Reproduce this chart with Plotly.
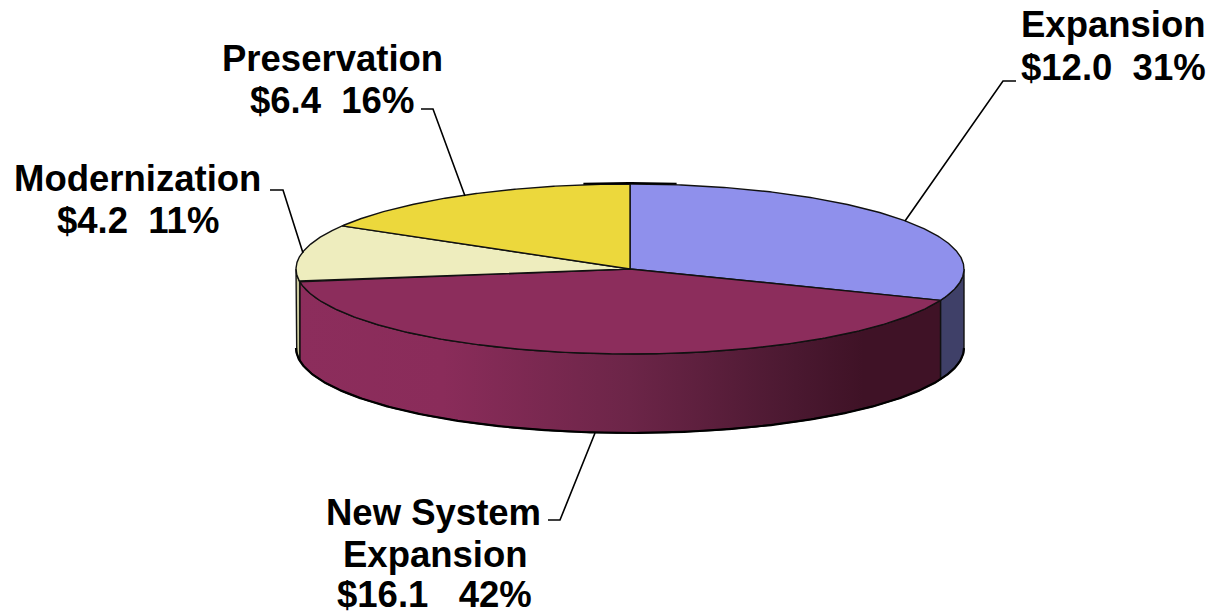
import numpy as np
import plotly.graph_objects as go

categories = ["Expansion", "New System Expansion", "Modernization", "Preservation"]
amounts = [12.0, 16.1, 4.2, 6.4]
top_colors = ["#8F90EC", "#8C2D5C", "#EEEDBE", "#ECD83C"]

CX, CY, RX, RY, DEPTH = 630, 269, 334, 85, 79
W, H = 1214, 616
EDGE = dict(color="#111111", width=1.4)


def pt(t):
    return CX + RX * np.sin(t), CY - RY * np.cos(t)


fig = go.Figure()
total = sum(amounts)
bounds = np.concatenate([[0], np.cumsum(amounts)]) / total * 2 * np.pi

# side walls (only the front half, t between 90 and 270 degrees, is visible)
wall_colors = {0: "#3F4068", 2: "#C9C89C"}
for i in range(len(amounts)):
    a, b = max(bounds[i], np.pi / 2), min(bounds[i + 1], 3 * np.pi / 2)
    if b <= a:
        continue
    t = np.linspace(a, b, 160)
    x, y = pt(t)
    kw = dict(
        x=np.concatenate([x, x[::-1], x[:1]]),
        y=np.concatenate([y, y[::-1] + DEPTH, y[:1]]),
        mode="lines", line=EDGE, hoverinfo="skip", showlegend=False,
    )
    if i == 1:
        kw["fill"] = "toself"
        kw["fillgradient"] = dict(
            type="horizontal",
            start=296, stop=963,
            colorscale=[[0, "#8C2D5C"], [0.22, "#8A2C5A"], [0.5, "#6C2548"],
                        [0.75, "#4A1830"], [0.85, "#3F1226"], [1, "#3F1226"]],
        )
    else:
        kw["fill"] = "toself"
        kw["fillcolor"] = wall_colors[i]
    fig.add_trace(go.Scatter(**kw))

# heavier lower rim of the disc
rim_x, rim_y = pt(np.linspace(np.pi / 2, 3 * np.pi / 2, 300))
fig.add_trace(go.Scatter(x=rim_x, y=rim_y + DEPTH, mode="lines",
                         line=dict(color="#000000", width=2.2),
                         hoverinfo="skip", showlegend=False))

# top face
for i in range(len(amounts)):
    t = np.linspace(bounds[i], bounds[i + 1], 240)
    x, y = pt(t)
    fig.add_trace(go.Scatter(
        x=np.concatenate([[CX], x, [CX]]),
        y=np.concatenate([[CY], y, [CY]]),
        mode="lines", fill="toself", fillcolor=top_colors[i], line=EDGE,
        name=categories[i], showlegend=False,
        hovertemplate=f"{categories[i]}: ${amounts[i]:.1f}<extra></extra>",
    ))

# short dark edge at the very top of the ellipse
x_top = pt(np.linspace(-0.14, 0.14, 30))
fig.add_trace(go.Scatter(x=x_top[0], y=x_top[1] - 1, mode="lines",
                         line=dict(color="#000000", width=2),
                         hoverinfo="skip", showlegend=False))

# leader lines
leaders = [
    ([905, 1003, 1016], [221, 81, 81]),
    ([465, 433, 421], [196, 109, 109]),
    ([303, 283, 270], [253, 190, 190]),
    ([595, 560, 548], [433, 520, 520]),
]
for lx, ly in leaders:
    fig.add_trace(go.Scatter(x=lx, y=ly, mode="lines",
                             line=dict(color="#000000", width=1.6),
                             hoverinfo="skip", showlegend=False))

labels = [
    ("Expansion", 1113, 24), ("$12.0\u00a0\u00a031%", 1113, 67),
    ("Preservation", 332, 58), ("$6.4\u00a0\u00a016%", 332, 100),
    ("Modernization", 137, 178), ("$4.2\u00a0\u00a011%", 138, 220),
    ("New System", 433, 512), ("Expansion", 435, 554),
    ("$16.1\u00a0\u00a0\u00a042%", 434, 594),
]
for text, x, y in labels:
    fig.add_annotation(x=x, y=y, text=f"<b>{text}</b>", showarrow=False,
                       xanchor="center", yanchor="middle",
                       font=dict(family="Liberation Sans", size=36.5, color="#000000"))

fig.update_layout(
    width=W, height=H, margin=dict(l=0, r=0, t=0, b=0),
    paper_bgcolor="white", plot_bgcolor="white", showlegend=False,
    xaxis=dict(range=[0, W], visible=False, fixedrange=True),
    yaxis=dict(range=[H, 0], visible=False, fixedrange=True),
)
fig.write_html("out.html", config={"displayModeBar": False},
               post_script="document.body.style.margin='0';document.documentElement.style.overflow='hidden';")
